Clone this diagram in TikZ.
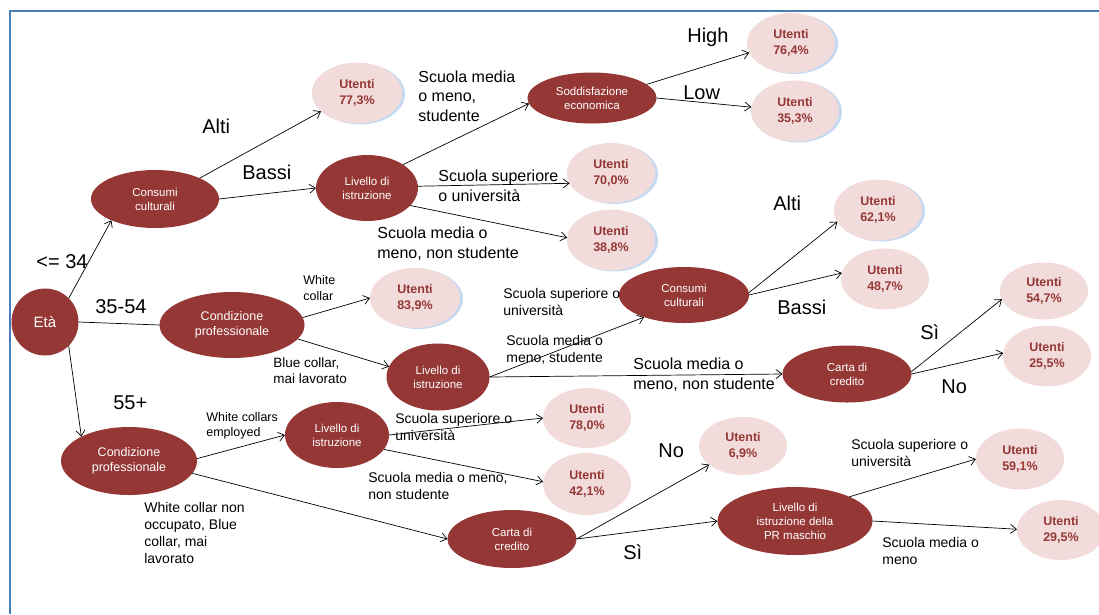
\documentclass[tikz,border=0pt]{standalone}
\usepackage{fontspec}
\setmainfont{Liberation Sans}
\usetikzlibrary{arrows.meta,shapes.geometric,shadows}
\definecolor{nodered}{HTML}{953735}
\definecolor{leafpink}{HTML}{F2DCDB}
\definecolor{rimblue}{HTML}{C6D9F1}
\definecolor{frameblue}{HTML}{4A7EBB}

\begin{document}
\begin{tikzpicture}[x=1pt,y=-1pt,line width=0.7pt,
  dec/.style={ellipse,fill=nodered,text=white,inner sep=0pt,outer sep=0pt,align=center,font=\fontsize{11.5}{14}\selectfont},
  leaf/.style={ellipse,fill=leafpink,text=nodered,inner sep=0pt,outer sep=0pt,align=center,minimum width=88pt,minimum height=60pt,font=\bfseries\fontsize{12.5}{16}\selectfont},
  bluerim/.style={drop shadow={shadow xshift=3pt,shadow yshift=-1pt,fill=rimblue,opacity=1}},
  big/.style={anchor=base west,inner sep=0pt,font=\fontsize{20}{24}\selectfont},
  mid/.style={anchor=base west,inner sep=0pt,align=left,font=\fontsize{16}{19.5}\selectfont},
  small/.style={anchor=base west,inner sep=0pt,align=left,font=\fontsize{14}{16.7}\selectfont},
  >={Straight Barb[length=6pt,width=9pt]}]
\useasboundingbox (0,0) rectangle (1099,614);
\draw[frameblue,line width=2pt] (1099,11) -| (10,614);

\node[dec,circle,minimum size=67pt,font=\fontsize{15}{18}\selectfont] (eta) at (45,322) {Età};
\node[dec,minimum width=128pt,minimum height=58pt] (cons1) at (155,199) {Consumi\\culturali};
\node[dec,minimum width=102pt,minimum height=66pt] (istr1) at (367,188) {Livello di\\istruzione};
\node[dec,minimum width=129pt,minimum height=51pt] (sodd) at (592,98) {Soddisfazione\\economica};
\node[dec,minimum width=130pt,minimum height=56pt] (cons2) at (684,295) {Consumi\\culturali};
\node[dec,minimum width=145pt,minimum height=66pt,font=\fontsize{12.5}{15.5}\selectfont] (cond1) at (232,325) {Condizione\\professionale};
\node[dec,minimum width=103pt,minimum height=67pt] (istr2) at (438,377) {Livello di\\istruzione};
\node[dec,minimum width=129pt,minimum height=57pt] (carta1) at (847,374) {Carta di\\credito};
\node[dec,minimum width=136pt,minimum height=68pt,font=\fontsize{12.5}{15.5}\selectfont] (cond2) at (129,461) {Condizione\\professionale};
\node[dec,minimum width=104pt,minimum height=66pt] (istr3) at (337,435) {Livello di\\istruzione};
\node[dec,minimum width=129pt,minimum height=58pt] (carta2) at (512,539) {Carta di\\credito};
\node[dec,minimum width=155pt,minimum height=68pt] (istrpr) at (795,521) {Livello di\\istruzione della\\PR maschio};

\node[leaf,bluerim,minimum width=90pt,minimum height=61pt] (u773) at (357,93) {Utenti\\77,3\%};
\node[leaf,bluerim] (u764) at (791,43) {Utenti\\76,4\%};
\node[leaf,bluerim,minimum height=61pt] (u353) at (795,111) {Utenti\\35,3\%};
\node[leaf,bluerim] (u700) at (611,173) {Utenti\\70,0\%};
\node[leaf,bluerim,minimum height=61pt] (u388) at (611,240) {Utenti\\38,8\%};
\node[leaf,bluerim,minimum height=61pt] (u621) at (878,210) {Utenti\\62,1\%};
\node[leaf,bluerim,minimum width=90pt] (u839) at (415,298) {Utenti\\83,9\%};
\node[leaf,minimum height=61pt] (u487) at (885,279) {Utenti\\48,7\%};
\node[leaf,minimum height=57pt] (u547) at (1044,291) {Utenti\\54,7\%};
\node[leaf,minimum height=61pt] (u255) at (1047,356) {Utenti\\25,5\%};
\node[leaf] (u780) at (587,418) {Utenti\\78,0\%};
\node[leaf,minimum height=62pt] (u421) at (587,484) {Utenti\\42,1\%};
\node[leaf,minimum height=58pt] (u69) at (743,446) {Utenti\\6,9\%};
\node[leaf,minimum height=61pt] (u591) at (1020,459) {Utenti\\59,1\%};
\node[leaf] (u295) at (1061,530) {Utenti\\29,5\%};

\node[big] (lalti1) at (202,133) {Alti};
\node[big] (lbassi1) at (242,179) {Bassi};
\node[big] (lle34) at (36,268) {<= 34};
\node[big] (l3554) at (95,313) {35-54};
\node[big] (l55) at (113,409) {55+};
\node[big] (lhigh) at (687,42) {High};
\node[big] (llow) at (683,99) {Low};
\node[big] (lalti2) at (773,210) {Alti};
\node[big] (lbassi2) at (777,314) {Bassi};
\node[big] (lsi1) at (920,339) {Sì};
\node[big] (lno1) at (941,393) {No};
\node[big] (lno2) at (658,457) {No};
\node[big] (lsi2) at (623,559) {Sì};

\node[mid] (lsms1) at (418,121) {Scuola media\\o meno,\\studente};
\node[mid] (lssu1) at (438,201) {Scuola superiore\\o università};
\node[mid] (lsmn1) at (377,258) {Scuola media o\\meno, non studente};
\node[mid] (lsmn2) at (633,389) {Scuola media o\\meno, non studente};

\node[small,font=\fontsize{12.5}{16}\selectfont] (lwc1) at (303,300) {White\\collar};
\node[small,font=\fontsize{13.5}{15.5}\selectfont] (lbc1) at (273,383) {Blue collar,\\mai lavorato};
\node[small,font=\fontsize{12.5}{15}\selectfont] (lwce) at (206,436) {White collars\\employed};
\node[small] (lwcn) at (144,563) {White collar non\\occupato, Blue\\collar, mai\\lavorato};
\node[small] (lssu2) at (503,315) {Scuola superiore o\\università};
\node[small] (lsms2) at (506,362) {Scuola media o\\meno, studente};
\node[small] (lssu3) at (395,440) {Scuola superiore o\\università};
\node[small] (lsmn3) at (368,499) {Scuola media o meno,\\non studente};
\node[small] (lssu4) at (851,466) {Scuola superiore o\\università};
\node[small] (lsm4) at (882,564) {Scuola media o\\meno};

\draw[->] (eta.45) -- (cons1.206);
\draw (eta.east) -- (cond1.west);
\draw[->] (eta.-45) -- (cond2.153);
\draw[->] (cons1.25) -- (u773.207);
\draw[->] (cons1.east) -- (istr1.west);
\draw[->] (istr1.33) -- (sodd.185);
\draw[->] (istr1.2) -- (u700.194);
\draw[->] (istr1.-22) -- (u388.177);
\draw[->] (sodd.14) -- (u764.193);
\draw[->] (sodd.east) -- (u353.175);
\draw[->] (cond1.6) -- (u839.west);
\draw[->] (cond1.-12) -- (istr2.168);
\draw[->] (istr2.east) -- (cons2.209);
\draw[->] (istr2.east) -- (carta1.west);
\draw[->] (cons2.2) -- (u621.196);
\draw[->] (cons2.east) -- (u487.172);
\draw[->] (carta1.2) -- (u547.191);
\draw[->] (carta1.east) -- (u255.176);
\draw[->] (cond2.2) -- (istr3.west);
\draw[->] (cond2.-11) -- (carta2.west);
\draw[->] (istr3.east) -- (u780.west);
\draw[->] (istr3.-17) -- (u421.177);
\draw[->] (carta2.east) -- (u69.209);
\draw[->] (carta2.east) -- (istrpr.west);
\draw[->] (istrpr.24) -- (u591.west);
\draw[->] (istrpr.east) -- (u295.179);
\end{tikzpicture}
\end{document}
